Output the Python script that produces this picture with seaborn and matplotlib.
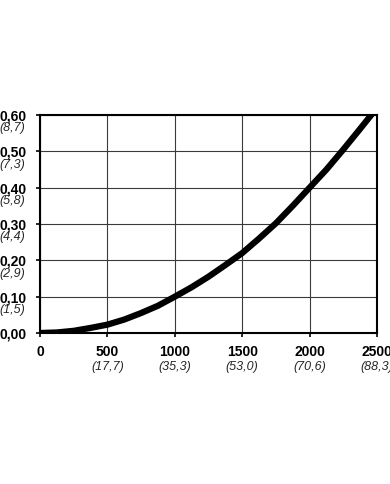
import matplotlib
matplotlib.use("Agg")
import matplotlib.pyplot as plt
from matplotlib import font_manager
import seaborn as sns
import pandas as pd

# ----------------------------------------------------------
# DATA
# ----------------------------------------------------------
x_vals = [0, 125, 250, 375, 500, 625, 750, 875, 1000, 1125, 1250,
          1375, 1500, 1625, 1750, 1875, 2000, 2125, 2250, 2375, 2500]
y_vals = [0.0, 0.0015, 0.006, 0.014, 0.023, 0.037, 0.055, 0.075, 0.10,
          0.126, 0.155, 0.187, 0.22, 0.26, 0.302, 0.35, 0.40, 0.45,
          0.505, 0.562, 0.62]

x_ticks = [0, 500, 1000, 1500, 2000, 2500]
x_sub_labels = ["", "(17,7)", "(35,3)", "(53,0)", "(70,6)", "(88,3)"]
y_ticks = [0.0, 0.1, 0.2, 0.3, 0.4, 0.5, 0.6]
y_sub_labels = ["", "(1,5)", "(2,9)", "(4,4)", "(5,8)", "(7,3)", "(8,7)"]

df = pd.DataFrame({"x": x_vals, "y": y_vals})

sns.set_theme(style="white")
plt.rcParams["font.family"] = ["Liberation Sans", "DejaVu Sans"]


def font_file(name):
    for f in font_manager.findSystemFonts():
        if f.endswith(name):
            return f
    return None


bold_f = font_file("LiberationSans-Bold.ttf")
ital_f = font_file("LiberationSans-Italic.ttf")
bold_fp = (font_manager.FontProperties(fname=bold_f, size=10) if bold_f
           else font_manager.FontProperties(weight="bold", size=10))
ital_fp = (font_manager.FontProperties(fname=ital_f, size=9) if ital_f
           else font_manager.FontProperties(style="italic", size=9))

fig = plt.figure(figsize=(3.9, 4.84), dpi=100)
ax = fig.add_axes([40 / 390, 1 - 333 / 484, 337 / 390, 218 / 484])

sns.lineplot(data=df, x="x", y="y", ax=ax, color="black", linewidth=4.5,
             solid_capstyle="butt")

ax.set_xlim(0, 2500)
ax.set_ylim(0, 0.6)
ax.set_xticks(x_ticks)
ax.set_yticks(y_ticks)
ax.set_xticklabels([str(t) for t in x_ticks], fontproperties=bold_fp)
ax.set_yticklabels([f"{t:.2f}".replace(".", ",") for t in y_ticks],
                   fontproperties=bold_fp)
ax.set_xlabel("")
ax.set_ylabel("")

ax.grid(True, color="#3a3a3a", linewidth=0.8)
ax.set_axisbelow(True)
for s in ax.spines.values():
    s.set_color("black")
    s.set_linewidth(1.5)

ax.tick_params(axis="both", which="major", direction="out", length=3,
               width=1.2, color="black", labelcolor="black")
ax.tick_params(axis="y", pad=6.5)
ax.tick_params(axis="x", pad=6)
ax.xaxis.set_ticks_position("bottom")
ax.yaxis.set_ticks_position("left")

# secondary (italic) labels under the main tick labels
for t, lab in zip(y_ticks, y_sub_labels):
    if lab:
        ax.annotate(lab, xy=(0, t), xycoords=("axes fraction", "data"),
                    xytext=(-10.5, -9.5), textcoords="offset points",
                    ha="right", va="center", fontproperties=ital_fp,
                    annotation_clip=False)
for t, lab in zip(x_ticks, x_sub_labels):
    if lab:
        ax.annotate(lab, xy=(t, 0), xycoords=("data", "axes fraction"),
                    xytext=(0, -24.5), textcoords="offset points",
                    ha="center", va="center", fontproperties=ital_fp,
                    annotation_clip=False)

fig.savefig("out.png", dpi=100)
